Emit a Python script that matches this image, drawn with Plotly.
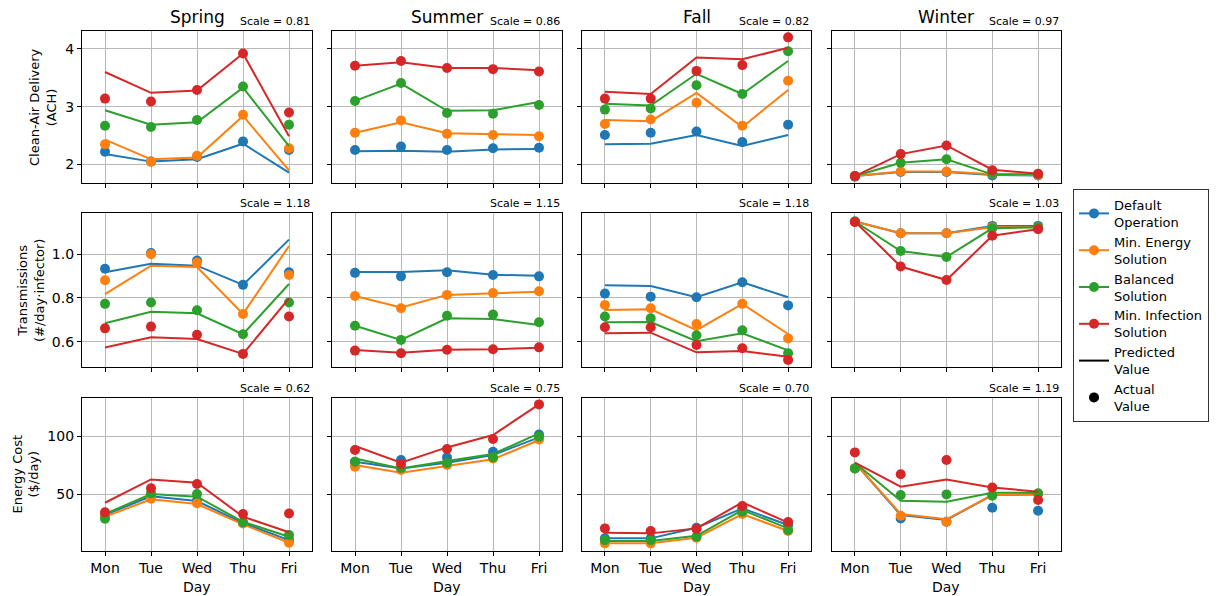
import plotly.graph_objects as go

# ---------------------------------------------------------------- data
days = ["Mon", "Tue", "Wed", "Thu", "Fri"]
seasons = ["Spring", "Summer", "Fall", "Winter"]
strategies = ["Default<br>Operation", "Min. Energy<br>Solution",
              "Balanced<br>Solution", "Min. Infection<br>Solution"]
colors = ["#1f77b4", "#ff7f0e", "#2ca02c", "#d62728"]

row_titles = ["Clean-Air Delivery<br>(ACH)",
              "Transmissions<br>(#/day\u00b7infector)",
              "Energy Cost<br>($/day)"]

scale_ach = [0.81, 0.86, 0.82, 0.97]
scale_trans = [1.18, 1.15, 1.18, 1.03]
scale_energy = [0.62, 0.75, 0.70, 1.19]

# each list: [default, min energy, balanced, min infection]
ach_spring_pred = [[2.18, 2.05, 2.09, 2.36, 1.86], [2.43, 2.09, 2.12, 2.84, 1.90],
                   [2.94, 2.69, 2.73, 3.33, 2.32], [3.60, 3.24, 3.28, 3.92, 2.49]]
ach_spring_act = [[2.22, 2.05, 2.13, 2.40, 2.25], [2.35, 2.05, 2.15, 2.86, 2.28],
                  [2.67, 2.65, 2.77, 3.35, 2.69], [3.14, 3.09, 3.29, 3.92, 2.90]]
ach_summer_pred = [[2.23, 2.24, 2.22, 2.26, 2.27], [2.55, 2.73, 2.54, 2.53, 2.51],
                   [3.10, 3.40, 2.93, 2.94, 3.08], [3.71, 3.77, 3.67, 3.67, 3.63]]
ach_summer_act = [[2.25, 2.31, 2.25, 2.28, 2.29], [2.55, 2.76, 2.53, 2.51, 2.49],
                  [3.10, 3.41, 2.89, 2.88, 3.03], [3.71, 3.79, 3.67, 3.65, 3.61]]
ach_fall_pred = [[2.35, 2.36, 2.51, 2.32, 2.51], [2.77, 2.75, 3.24, 2.65, 3.29],
                 [3.05, 3.02, 3.57, 3.22, 3.79], [3.26, 3.22, 3.85, 3.82, 4.02]]
ach_fall_act = [[2.51, 2.55, 2.57, 2.39, 2.69], [2.70, 2.78, 3.07, 2.67, 3.45],
                [2.95, 2.97, 3.37, 3.22, 3.96], [3.14, 3.14, 3.62, 3.72, 4.20]]
ach_winter_pred = [[1.80, 1.87, 1.87, 1.82, 1.81], [1.80, 1.88, 1.88, 1.83, 1.82],
                   [1.80, 2.03, 2.09, 1.83, 1.83], [1.80, 2.18, 2.33, 1.91, 1.84]]
ach_winter_act = [[1.79, 1.87, 1.87, 1.81, 1.81], [1.80, 1.88, 1.88, 1.84, 1.82],
                  [1.80, 2.03, 2.09, 1.85, 1.83], [1.80, 2.18, 2.33, 1.90, 1.84]]

trans_spring_pred = [[0.918, 0.957, 0.948, 0.860, 1.067], [0.818, 0.948, 0.942, 0.727, 1.038],
                     [0.684, 0.737, 0.730, 0.634, 0.864], [0.573, 0.620, 0.612, 0.544, 0.798]]
trans_spring_act = [[0.934, 1.006, 0.971, 0.860, 0.918], [0.881, 1.000, 0.962, 0.727, 0.905],
                    [0.773, 0.779, 0.744, 0.634, 0.779], [0.661, 0.669, 0.632, 0.544, 0.715]]
trans_summer_pred = [[0.919, 0.919, 0.927, 0.906, 0.902], [0.809, 0.756, 0.814, 0.823, 0.829],
                     [0.673, 0.608, 0.707, 0.704, 0.676], [0.562, 0.549, 0.563, 0.565, 0.572]]
trans_summer_act = [[0.915, 0.899, 0.918, 0.905, 0.899], [0.809, 0.753, 0.814, 0.823, 0.831],
                    [0.673, 0.608, 0.719, 0.724, 0.689], [0.559, 0.547, 0.563, 0.565, 0.574]]
trans_fall_pred = [[0.858, 0.855, 0.803, 0.872, 0.803], [0.745, 0.748, 0.653, 0.773, 0.635],
                   [0.689, 0.690, 0.602, 0.638, 0.560], [0.638, 0.641, 0.551, 0.557, 0.531]]
trans_fall_act = [[0.820, 0.806, 0.803, 0.872, 0.766], [0.768, 0.753, 0.681, 0.773, 0.615],
                  [0.715, 0.707, 0.629, 0.652, 0.547], [0.666, 0.666, 0.585, 0.570, 0.516]]
trans_winter_pred = [[1.150, 1.096, 1.096, 1.130, 1.130], [1.150, 1.096, 1.096, 1.124, 1.124],
                     [1.150, 1.015, 0.988, 1.119, 1.124], [1.150, 0.944, 0.882, 1.085, 1.115]]
trans_winter_act = [[1.150, 1.096, 1.096, 1.130, 1.130], [1.148, 1.096, 1.096, 1.124, 1.124],
                    [1.150, 1.015, 0.988, 1.119, 1.124], [1.148, 0.944, 0.882, 1.085, 1.115]]

energy_spring_pred = [[32.0, 48.0, 44.0, 25.0, 10.3], [30.5, 45.4, 41.4, 23.9, 8.0],
                      [32.8, 50.0, 47.7, 26.1, 13.2], [42.5, 62.6, 59.8, 30.5, 17.0]]
energy_spring_act = [[31.5, 48.5, 44.5, 25.2, 10.5], [30.5, 46.0, 42.0, 24.7, 8.0],
                     [28.7, 50.6, 50.0, 25.6, 14.6], [34.2, 54.9, 58.6, 32.8, 33.3]]
energy_summer_pred = [[77.9, 72.1, 77.0, 83.6, 98.9], [75.0, 68.4, 74.1, 79.9, 96.6],
                      [80.7, 72.1, 78.4, 84.5, 102.3], [91.4, 77.0, 90.2, 100.9, 127.3]]
energy_summer_act = [[77.9, 79.3, 81.6, 86.5, 101.4], [73.6, 70.7, 75.0, 80.7, 97.1],
                     [77.9, 72.4, 76.7, 81.6, 99.4], [87.9, 75.9, 88.8, 97.4, 127.3]]
energy_fall_pred = [[11.8, 11.8, 21.0, 37.6, 23.3], [7.5, 7.5, 12.4, 32.8, 18.1],
                    [9.5, 9.5, 14.0, 36.2, 20.4], [16.7, 16.1, 20.4, 42.8, 25.3]]
energy_fall_act = [[11.8, 11.8, 21.0, 37.6, 23.3], [7.5, 7.5, 12.4, 32.8, 18.1],
                   [10.3, 10.3, 13.2, 34.8, 19.0], [20.4, 18.1, 19.8, 39.7, 25.9]]
energy_winter_pred = [[77.0, 31.9, 27.6, 49.1, 49.7], [77.0, 32.8, 28.2, 49.1, 50.0],
                      [77.0, 44.3, 43.4, 51.1, 51.1], [77.0, 56.3, 62.6, 55.7, 52.0]]
energy_winter_act = [[72.1, 29.0, 26.1, 38.2, 35.6], [72.1, 31.3, 26.1, 49.1, 50.0],
                     [72.1, 49.1, 49.7, 48.6, 50.6], [85.9, 67.0, 79.3, 55.7, 44.8]]

grid_pred = [
    [ach_spring_pred, ach_summer_pred, ach_fall_pred, ach_winter_pred],
    [trans_spring_pred, trans_summer_pred, trans_fall_pred, trans_winter_pred],
    [energy_spring_pred, energy_summer_pred, energy_fall_pred, energy_winter_pred],
]
grid_act = [
    [ach_spring_act, ach_summer_act, ach_fall_act, ach_winter_act],
    [trans_spring_act, trans_summer_act, trans_fall_act, trans_winter_act],
    [energy_spring_act, energy_summer_act, energy_fall_act, energy_winter_act],
]
grid_scale = [scale_ach, scale_trans, scale_energy]

# ---------------------------------------------------------------- layout geometry (pixels)
W, H = 1221, 596
col_px = [(82, 312), (332, 562), (582, 811), (832, 1061)]
row_px = [(31, 183), (213, 367), (398, 551)]
row_ranges = [[1.68, 4.31], [0.484, 1.189], [0.9, 132.8]]
row_ticks = [[2, 3, 4], [0.6, 0.8, 1.0], [50, 100]]
row_ticktext = [["2", "3", "4"], ["0.6", "0.8", "1.0"], ["50", "100"]]
row_title_x = [43, 31, 25]

FONT = "DejaVu Sans"
fig = go.Figure()
layout = {}
annotations = []

for r in range(3):
    for c in range(4):
        idx = r * 4 + c + 1
        xa = "x" if idx == 1 else f"x{idx}"
        ya = "y" if idx == 1 else f"y{idx}"
        x0, x1 = col_px[c]
        y0, y1 = row_px[r]
        layout["xaxis" if idx == 1 else f"xaxis{idx}"] = dict(
            domain=[x0 / W, x1 / W], anchor=ya, range=[-0.5, 4.5],
            tickmode="array", tickvals=list(range(5)),
            ticktext=days if r == 2 else [""] * 5,
            showgrid=True, gridcolor="#b8b8b8", gridwidth=1,
            showline=True, mirror=True, linecolor="black", linewidth=1.2,
            ticks="outside", ticklen=4, tickcolor="black",
            zeroline=False, tickfont=dict(family=FONT, size=14, color="black"),
        )
        layout["yaxis" if idx == 1 else f"yaxis{idx}"] = dict(
            domain=[1 - y1 / H, 1 - y0 / H], anchor=xa, range=row_ranges[r],
            tickmode="array", tickvals=row_ticks[r],
            ticktext=row_ticktext[r] if c == 0 else [""] * len(row_ticks[r]),
            showgrid=True, gridcolor="#b8b8b8", gridwidth=1,
            showline=True, mirror=True, linecolor="black", linewidth=1.2,
            ticks="outside", ticklen=4, tickcolor="black",
            zeroline=False, tickfont=dict(family=FONT, size=14, color="black"),
        )
        pred = grid_pred[r][c]
        act = grid_act[r][c]
        for s in range(4):
            fig.add_trace(go.Scatter(
                x=list(range(5)), y=pred[s], mode="lines", xaxis=xa, yaxis=ya,
                line=dict(color=colors[s], width=2), showlegend=False,
                hoverinfo="skip"))
            fig.add_trace(go.Scatter(
                x=list(range(5)), y=act[s], mode="markers", xaxis=xa, yaxis=ya,
                marker=dict(color=colors[s], size=10), showlegend=False,
                hoverinfo="skip"))
        annotations.append(dict(
            text=f"Scale = {grid_scale[r][c]:.2f}", xref="paper", yref="paper",
            x=x1 / W, y=1 - (y0 - 1) / H, xanchor="right", yanchor="bottom",
            showarrow=False, font=dict(family=FONT, size=11, color="black")))
        if r == 0:
            annotations.append(dict(
                text=seasons[c], xref="paper", yref="paper",
                x=(x0 + x1) / 2 / W, y=1 - 17 / H, xanchor="center", yanchor="middle",
                showarrow=False, font=dict(family=FONT, size=17, color="black")))
        if r == 2:
            annotations.append(dict(
                text="Day", xref="paper", yref="paper",
                x=(x0 + x1) / 2 / W, y=1 - 587 / H, xanchor="center", yanchor="middle",
                showarrow=False, font=dict(family=FONT, size=14, color="black")))
    annotations.append(dict(
        text=row_titles[r], xref="paper", yref="paper", textangle=-90,
        x=row_title_x[r] / W, y=1 - (row_px[r][0] + row_px[r][1]) / 2 / H,
        xanchor="center", yanchor="middle", showarrow=False,
        font=dict(family=FONT, size=13, color="black")))

# legend entries
for s in range(4):
    fig.add_trace(go.Scatter(
        x=[None], y=[None], mode="lines+markers", name=strategies[s],
        line=dict(color=colors[s], width=2), marker=dict(color=colors[s], size=10)))
fig.add_trace(go.Scatter(x=[None], y=[None], mode="lines", name="Predicted<br>Value",
                         line=dict(color="black", width=2)))
fig.add_trace(go.Scatter(x=[None], y=[None], mode="markers", name="Actual<br>Value",
                         marker=dict(color="black", size=10)))

fig.update_layout(
    width=W, height=H, margin=dict(l=0, r=0, t=0, b=0),
    paper_bgcolor="white", plot_bgcolor="white",
    font=dict(family=FONT, size=13, color="black"),
    annotations=annotations,
    legend=dict(x=1073 / W, y=1 - 189 / H, xanchor="left", yanchor="top",
                bordercolor="#333333", borderwidth=1, bgcolor="white",
                font=dict(family=FONT, size=13, color="black"),
                tracegroupgap=0, itemwidth=30),
    **layout,
)

fig.write_html("out.html")
